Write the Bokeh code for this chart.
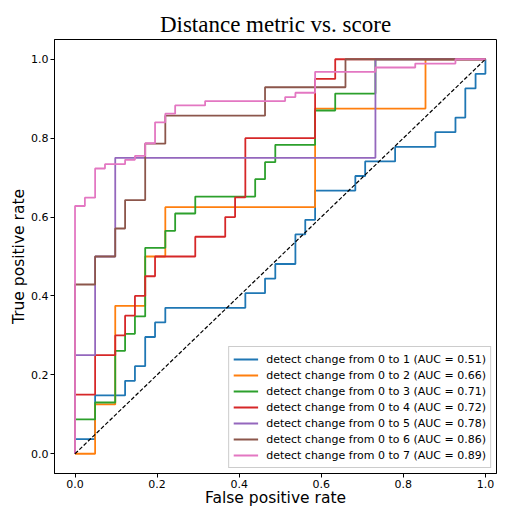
from bokeh.plotting import figure
from bokeh.models import Range1d, Legend, LegendItem, FixedTicker
from bokeh.embed import file_html
from bokeh.resources import INLINE

# ROC curve corner points (step "after")
fpr_1 = [0, 0, 0.049, 0.122, 0.146, 0.171, 0.195, 0.220, 0.415, 0.463, 0.488,
         0.537, 0.561, 0.585, 0.683, 0.707, 0.780, 0.878, 0.927, 0.951, 0.976, 1.0]
tpr_1 = [0, 0.037, 0.148, 0.185, 0.222, 0.296, 0.333, 0.370, 0.407, 0.444, 0.481,
         0.556, 0.593, 0.667, 0.704, 0.741, 0.778, 0.815, 0.852, 0.926, 0.963, 1.0]

fpr_2 = [0, 0.049, 0.098, 0.171, 0.220, 0.585, 0.854, 1.0]
tpr_2 = [0, 0.125, 0.375, 0.5, 0.625, 0.875, 1.0, 1.0]

fpr_3 = [0, 0, 0.049, 0.098, 0.122, 0.146, 0.171, 0.220, 0.244, 0.293, 0.439,
         0.463, 0.488, 0.585, 0.634, 0.732, 1.0]
tpr_3 = [0, 0.087, 0.130, 0.261, 0.304, 0.348, 0.522, 0.565, 0.609, 0.652, 0.696,
         0.739, 0.783, 0.870, 0.913, 1.0, 1.0]

fpr_4 = [0, 0, 0.049, 0.098, 0.122, 0.146, 0.171, 0.195, 0.293, 0.366, 0.390,
         0.415, 0.585, 0.634, 1.0]
tpr_4 = [0, 0.15, 0.25, 0.30, 0.35, 0.40, 0.45, 0.50, 0.55, 0.60, 0.65,
         0.80, 0.95, 1.0, 1.0]

fpr_5 = [0, 0, 0.049, 0.098, 0.732, 1.0]
tpr_5 = [0, 0.25, 0.5, 0.75, 1.0, 1.0]

fpr_6 = [0, 0, 0.049, 0.098, 0.122, 0.171, 0.220, 0.463, 0.659, 1.0]
tpr_6 = [0, 0.429, 0.5, 0.571, 0.643, 0.786, 0.857, 0.929, 1.0, 1.0]

fpr_7 = [0, 0, 0.024, 0.049, 0.073, 0.122, 0.146, 0.171, 0.195, 0.220, 0.244,
         0.317, 0.512, 0.537, 0.585, 0.732, 0.829, 0.927, 1.0]
tpr_7 = [0, 0.628, 0.649, 0.723, 0.734, 0.745, 0.755, 0.787, 0.840, 0.862, 0.883,
         0.894, 0.904, 0.915, 0.968, 0.979, 0.989, 1.0, 1.0]

series_labels = [
    "detect change from 0 to 1 (AUC = 0.51)",
    "detect change from 0 to 2 (AUC = 0.66)",
    "detect change from 0 to 3 (AUC = 0.71)",
    "detect change from 0 to 4 (AUC = 0.72)",
    "detect change from 0 to 5 (AUC = 0.78)",
    "detect change from 0 to 6 (AUC = 0.86)",
    "detect change from 0 to 7 (AUC = 0.89)",
]
series_colors = ["#1f77b4", "#ff7f0e", "#2ca02c", "#d62728",
                 "#9467bd", "#8c564b", "#e377c2"]

diag_x = [0, 1]
diag_y = [0, 1]

tick_values = [0.0, 0.2, 0.4, 0.6, 0.8, 1.0]
tick_labels = ["0.0", "0.2", "0.4", "0.6", "0.8", "1.0"]

fprs = [fpr_1, fpr_2, fpr_3, fpr_4, fpr_5, fpr_6, fpr_7]
tprs = [tpr_1, tpr_2, tpr_3, tpr_4, tpr_5, tpr_6, tpr_7]

p = figure(width=500, height=509, output_backend="svg", toolbar_location=None,
           x_range=Range1d(-0.05, 1.027), y_range=Range1d(-0.05, 1.05),
           min_border_left=54, min_border_right=4, min_border_top=39,
           min_border_bottom=35, title="Distance metric vs. score")

p.title.text_font = "Liberation Serif"
p.title.text_font_size = "23px"
p.title.text_font_style = "normal"
p.title.text_color = "black"
p.title.align = "center"
p.title.standoff = 5

p.grid.visible = False
p.background_fill_color = "white"
p.border_fill_color = "white"
p.outline_line_color = "black"
p.outline_line_width = 1
p.outline_line_alpha = 1

for ax in (p.xaxis[0], p.yaxis[0]):
    ax.ticker = FixedTicker(ticks=tick_values)
    ax.major_label_overrides = {v: s for v, s in zip(tick_values, tick_labels)}
    ax.major_label_text_font = "DejaVu Sans"
    ax.major_label_text_font_size = "11px"
    ax.major_label_text_color = "black"
    ax.axis_label_text_font = "DejaVu Sans"
    ax.axis_label_text_font_size = "15.5px"
    ax.axis_label_text_font_style = "normal"
    ax.axis_label_text_color = "black"
    ax.axis_line_color = "black"
    ax.axis_line_width = 1
    ax.major_tick_line_color = "black"
    ax.major_tick_out = 4
    ax.major_tick_in = 0
    ax.minor_tick_out = 0
    ax.minor_tick_in = 0
    ax.major_label_standoff = 2

p.xaxis.axis_label = "False positive rate"
p.yaxis.axis_label = "True positive rate"
p.xaxis.major_label_standoff = 2
p.xaxis.axis_label_standoff = -2
p.yaxis.axis_label_standoff = 0

items = []
for fx, ty, lab, col in zip(fprs, tprs, series_labels, series_colors):
    r = p.step(fx, ty, mode="after", line_color=col, line_width=1.8)
    items.append(LegendItem(label=lab, renderers=[r]))

p.line(diag_x, diag_y, line_color="black", line_dash="4 2", line_width=1.2)

legend = Legend(items=items, location="bottom_right")
legend.label_text_font = "DejaVu Sans"
legend.label_text_font_size = "11px"
legend.label_text_color = "black"
legend.glyph_width = 25
legend.glyph_height = 16
legend.label_height = 16
legend.spacing = 0
legend.padding = 4
legend.margin = 5
legend.label_standoff = 8
legend.border_line_color = "#cccccc"
legend.border_line_alpha = 1
legend.background_fill_alpha = 0.8
p.add_layout(legend)

open("out.html", "w").write(file_html(p, INLINE))
